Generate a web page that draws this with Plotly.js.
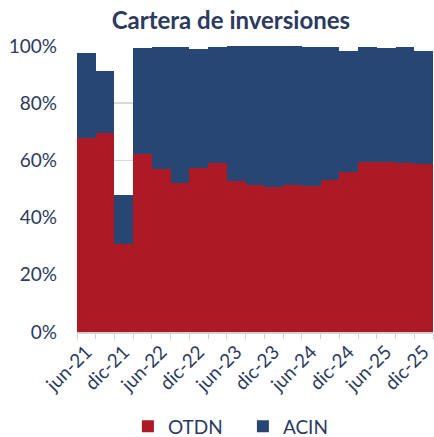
<!DOCTYPE html>
<html><head><meta charset="utf-8">
<script src="https://cdn.plot.ly/plotly-3.0.1.min.js"></script>
<style>html,body{margin:0;padding:0;background:#fff}</style>
</head><body>
<div id="chart" style="width:434px;height:437px"></div>
<script>
const quarters = ['jun-21','sep-21','dic-21','mar-22','jun-22','sep-22','dic-22','mar-23','jun-23','sep-23','dic-23','mar-24','jun-24','sep-24','dic-24','mar-25','jun-25','sep-25','dic-25'];
const tickLabels = ['jun-21','','dic-21','','jun-22','','dic-22','','jun-23','','dic-23','','jun-24','','dic-24','','jun-25','','dic-25'];
const otdn = [67.7,69.6,30.9,62.2,56.9,52.0,57.5,59.0,52.7,51.3,50.7,51.3,51.0,53.0,55.8,59.3,59.3,59.0,58.6];
const acin = [29.8,21.6,17.0,37.2,42.7,47.6,41.6,40.6,47.2,48.6,49.2,48.6,48.8,46.8,42.5,40.5,40.1,40.6,39.7];
const txt = '#2b3a5e';
const data = [
  {type:'bar', name:'OTDN', x:quarters, y:otdn, marker:{color:'#ad1a25'}},
  {type:'bar', name:'ACIN', x:quarters, y:acin, marker:{color:'#274674'}}
];
const layout = {
  width:434, height:437,
  margin:{l:77, r:1, t:46, b:105, autoexpand:false},
  barmode:'stack', bargap:0,
  paper_bgcolor:'#fff', plot_bgcolor:'#fff',
  font:{family:'Lato, "Open Sans", sans-serif', color:txt, size:19},
  title:{text:'<b>Cartera de inversiones</b>', x:0.532, xref:'container', xanchor:'center', y:0.952, yref:'container', yanchor:'middle', font:{size:24, color:txt}},
  xaxis:{type:'category', tickmode:'array', tickvals:quarters, ticktext:tickLabels, tickson:'boundaries', ticks:'outside', ticklen:5, tickcolor:'#d0d0d0', showline:true, linecolor:'#d0d0d0', linewidth:1.5, showgrid:false, tickangle:-45, tickfont:{size:19, color:txt}, range:[-0.5,18.5], automargin:false},
  yaxis:{range:[0,100], tickvals:[0,20,40,60,80,100], ticktext:['0%','20%','40%','60%','80%','100%'], showgrid:true, gridcolor:'#d9d9d9', gridwidth:1.5, zeroline:false, showline:false, ticklabelstandoff:19, tickfont:{size:19, color:txt}, automargin:false},
  legend:{orientation:'h', x:0.143, xanchor:'left', y:-0.33, yanchor:'middle', font:{size:19, color:txt}, traceorder:'normal', itemwidth:30, entrywidth:70},
  showlegend:true
};
Plotly.newPlot('chart', data, layout, {displayModeBar:false, staticPlot:true});
</script>
</body></html>
